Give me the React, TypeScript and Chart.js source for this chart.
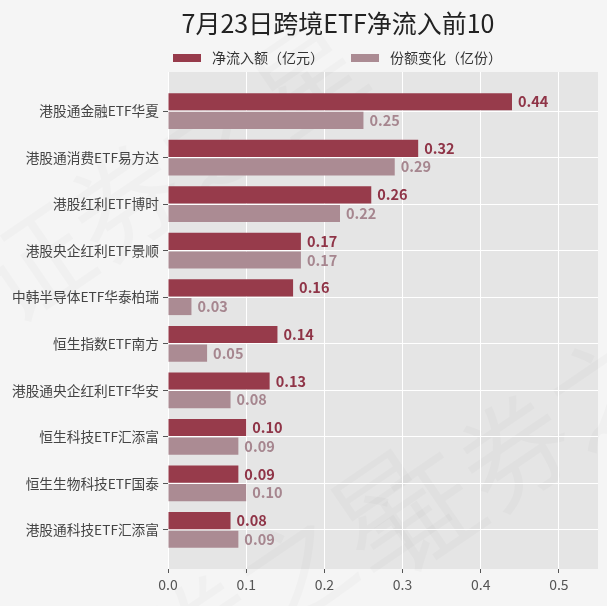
import { useRef, useEffect } from 'react'
import Chart from 'chart.js/auto'

const categories = [
  '港股通金融ETF华夏',
  '港股通消费ETF易方达',
  '港股红利ETF博时',
  '港股央企红利ETF景顺',
  '中韩半导体ETF华泰柏瑞',
  '恒生指数ETF南方',
  '港股通央企红利ETF华安',
  '恒生科技ETF汇添富',
  '恒生生物科技ETF国泰',
  '港股通科技ETF汇添富',
]
const netInflow = [0.44, 0.32, 0.26, 0.17, 0.16, 0.14, 0.13, 0.1, 0.09, 0.08]
const shareChange = [0.25, 0.29, 0.22, 0.17, 0.03, 0.05, 0.08, 0.09, 0.1, 0.09]
const xTicks = [0, 0.1, 0.2, 0.3, 0.4, 0.5]
const seriesNames = ['净流入额（亿元）', '份额变化（亿份）']
const title = '7月23日跨境ETF净流入前10'
const watermark = '证券之星'

const FONT = '"Noto Sans CJK SC", "Noto Sans", sans-serif'
const barColors = ['#973b4b', '#ab8b93']
const labelColors = ['#8f3447', '#a6868f']

const decor = {
  id: 'decor',
  beforeDraw(chart: Chart) {
    const { ctx, chartArea: a, width, height } = chart
    ctx.save()
    ctx.fillStyle = '#f5f5f5'
    ctx.fillRect(0, 0, width, height)
    ctx.fillStyle = '#e5e5e5'
    ctx.fillRect(a.left, a.top, a.right - a.left, a.bottom - a.top)
    // faint watermark
    ctx.fillStyle = 'rgba(0,0,0,0.02)'
    ctx.font = `110px ${FONT}`
    ctx.textAlign = 'center'
    ctx.textBaseline = 'middle'
    const spots = [[170, 170], [560, 420], [250, 600]]
    spots.forEach(([x, y]) => {
      ctx.save()
      ctx.translate(x, y)
      ctx.rotate(-0.6)
      ctx.fillText(watermark, 0, 0)
      ctx.restore()
    })
    ctx.restore()
  },
  afterDatasetsDraw(chart: Chart) {
    const { ctx } = chart
    ctx.save()
    ctx.font = `bold 14.5px ${FONT}`
    ctx.textBaseline = 'middle'
    ctx.textAlign = 'left'
    chart.data.datasets.forEach((ds, di) => {
      const meta = chart.getDatasetMeta(di)
      ctx.fillStyle = labelColors[di]
      meta.data.forEach((el: any, i) => {
        const v = (ds.data[i] as any).x as number
        ctx.fillText(v.toFixed(2), el.x + 6, el.y)
      })
    })
    ctx.restore()
  },
  afterDraw(chart: Chart) {
    const { ctx } = chart
    ctx.save()
    ctx.fillStyle = '#222'
    ctx.font = `25px ${FONT}`
    ctx.textAlign = 'center'
    ctx.textBaseline = 'middle'
    ctx.fillText(title, 338, 23)
    ctx.font = `14px ${FONT}`
    ctx.textAlign = 'left'
    const lx = [173, 351]
    seriesNames.forEach((name, i) => {
      ctx.fillStyle = barColors[i]
      ctx.fillRect(lx[i], 54, 28, 8)
      ctx.fillStyle = '#333'
      ctx.fillText(name, lx[i] + 39, 58)
    })
    ctx.restore()
  },
}

export default function App() {
  const canvasRef = useRef<HTMLCanvasElement>(null)
  const chartRef = useRef<Chart | null>(null)

  useEffect(() => {
    if (!canvasRef.current) return
    document.body.style.margin = '0'
    document.body.style.background = '#f5f5f5'
    Chart.getChart(canvasRef.current)?.destroy()

    chartRef.current = new Chart(canvasRef.current, {
      type: 'bar',
      data: {
        datasets: [
          {
            label: seriesNames[0],
            data: netInflow.map((v, i) => ({ x: v, y: i })),
            backgroundColor: barColors[0],
            categoryPercentage: 0.8,
            barPercentage: 0.92,
          },
          {
            label: seriesNames[1],
            data: shareChange.map((v, i) => ({ x: v, y: i })),
            backgroundColor: barColors[1],
            categoryPercentage: 0.8,
            barPercentage: 0.92,
          },
        ],
      },
      options: {
        indexAxis: 'y',
        responsive: true,
        maintainAspectRatio: false,
        animation: false,
        layout: { padding: { top: 72, right: 9, left: 0, bottom: 0 } },
        plugins: {
          legend: { display: false },
          title: { display: false },
          tooltip: { enabled: false },
        },
        scales: {
          x: {
            type: 'linear',
            min: 0,
            max: 0.55,
            afterBuildTicks: (s: any) => { s.ticks = xTicks.map((v) => ({ value: v })) },
            afterFit: (s: any) => { s.height = 37 },
            ticks: {
              font: { size: 14, family: FONT },
              color: '#555',
              padding: 3,
              callback: (v) => Number(v).toFixed(1),
            },
            grid: { color: '#ffffff', tickColor: '#555', tickLength: 4 },
            border: { display: false },
          },
          y: {
            type: 'linear',
            reverse: true,
            offset: false,
            min: -0.84,
            max: 9.84,
            afterBuildTicks: (s: any) => { s.ticks = categories.map((_, i) => ({ value: i })) },
            afterFit: (s: any) => { s.width = 168 },
            ticks: {
              font: { size: 13.7, family: FONT },
              color: '#444',
              padding: 4,
              autoSkip: false,
              callback: (v) => categories[Number(v)],
            },
            grid: { color: '#ffffff', tickColor: '#555', tickLength: 5, offset: false },
            border: { display: false },
          },
        },
      },
      plugins: [decor],
    })

    return () => { chartRef.current?.destroy(); chartRef.current = null }
  }, [])

  return (
    <div style={{ width: 607, height: 606 }}>
      <canvas ref={canvasRef} />
    </div>
  )
}
